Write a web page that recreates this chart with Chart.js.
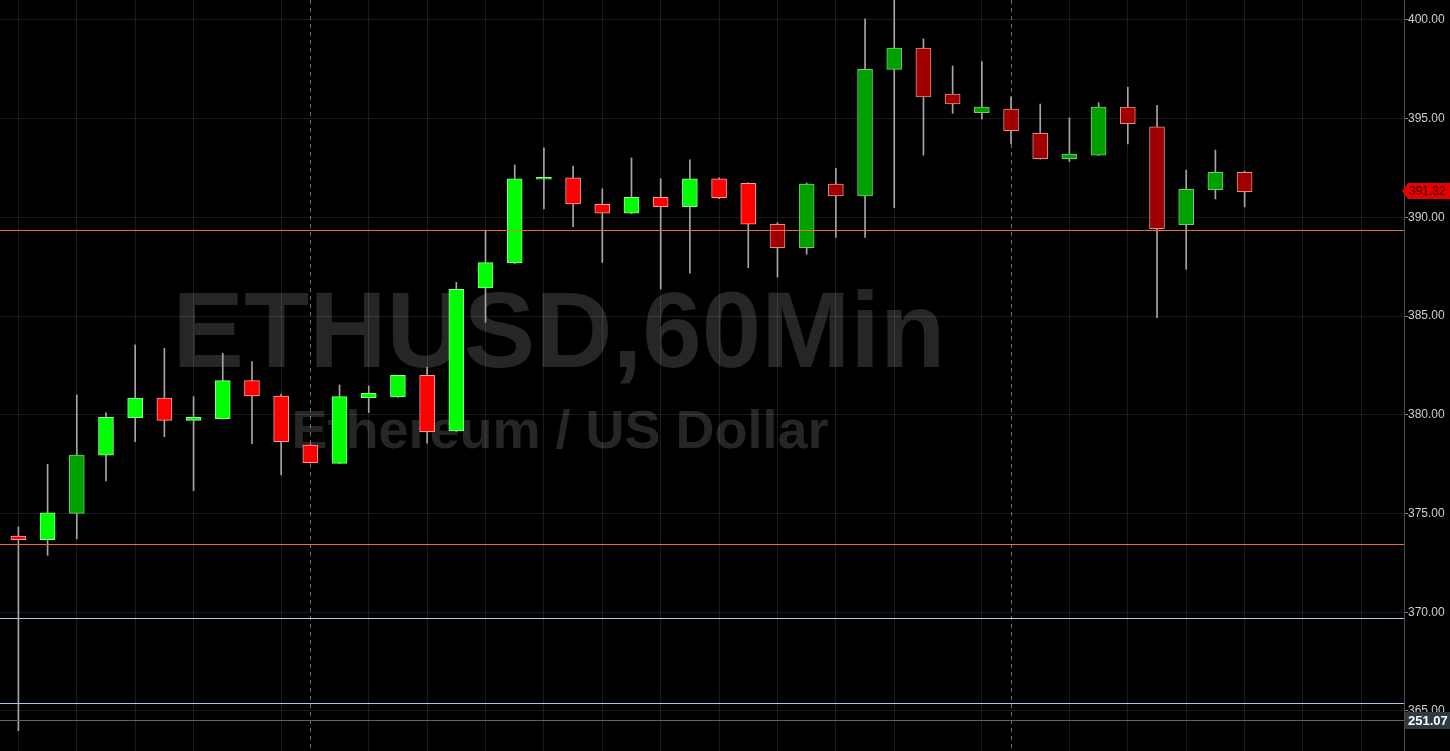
<!DOCTYPE html>
<html>
<head>
<meta charset="utf-8">
<script src="https://cdn.jsdelivr.net/npm/chart.js@4.4.1/dist/chart.umd.min.js"></script>
<style>
  html, body { margin: 0; padding: 0; background: #000; overflow: hidden; }
  #chart { display: block; }
</style>
</head>
<body>
<canvas id="chart" width="1450" height="751"></canvas>
<script>
// ETHUSD 60 min candles
var opens  = [373.86, 373.67, 375.01, 377.95, 379.85, 380.84, 379.72, 379.80, 381.73, 380.95,
              378.47, 377.54, 380.87, 380.90, 382.00, 379.18, 386.42, 387.69, 391.93, 392.00,
              390.66, 390.21, 391.02, 390.54, 391.95, 391.73, 389.65, 388.47, 391.68, 391.08,
              397.50, 398.57, 396.24, 395.30, 395.48, 394.26, 392.97, 393.15, 395.58, 394.58,
              389.63, 391.40, 392.28];
var highs  = [374.32, 377.49, 381.00, 380.10, 383.54, 383.37, 380.92, 383.11, 382.69, 381.05,
              378.50, 381.51, 381.46, 382.00, 382.41, 386.71, 389.33, 392.65, 393.52, 392.60,
              391.45, 393.01, 391.96, 392.91, 392.00, 391.75, 389.73, 391.74, 392.49, 400.05,
              401.40, 399.04, 397.67, 397.89, 396.11, 395.74, 395.04, 395.81, 396.59, 395.68,
              392.39, 393.41, 392.34];
var lows   = [364.00, 372.88, 373.72, 376.65, 378.64, 378.89, 376.16, 379.78, 378.54, 376.95,
              377.55, 377.52, 380.11, 380.88, 378.56, 379.15, 384.69, 387.65, 390.43, 389.53,
              387.71, 390.19, 386.37, 387.17, 390.95, 387.45, 386.97, 388.13, 388.99, 388.99,
              390.49, 393.15, 395.27, 394.97, 393.72, 392.95, 392.82, 393.13, 393.72, 384.92,
              387.37, 390.93, 390.53];
var closes = [373.67, 375.03, 377.96, 379.87, 380.84, 379.72, 379.87, 381.73, 380.95, 378.64,
              377.58, 380.92, 381.09, 382.00, 379.14, 386.36, 387.71, 391.95, 392.03, 390.68,
              390.21, 391.02, 390.54, 391.95, 391.00, 389.65, 388.47, 391.68, 391.08, 397.50,
              398.57, 396.10, 395.74, 395.58, 394.39, 392.97, 393.20, 395.58, 394.75, 389.43,
              391.42, 392.28, 391.30];
// bars painted in the bright shade (1) or the dark shade (0)
var brightBar = [1, 1, 0, 1, 1, 1, 1, 1, 1, 1,
                 1, 1, 1, 1, 1, 1, 1, 1, 1, 1,
                 1, 1, 1, 1, 1, 1, 0, 0, 0, 0,
                 0, 0, 0, 0, 0, 0, 0, 0, 0, 0,
                 0, 0, 0];

var priceTicks = [365, 370, 375, 380, 385, 390, 395, 400];
var hourGrid = [1, 3, 5, 7, 11, 13, 15, 17, 19, 21, 23, 25, 27, 29, 31, 35, 37, 39, 41, 43, 45];
var dayBreaks = [10, 34];

var orangeLevels = [389.35, 373.45];
var blueLevels = [369.71, 365.40];
var grayLevels = [364.52];

var lastPrice = 391.32;
var indicatorValue = 251.07;
var indicatorLevel = 364.52;

var watermarkTitle = 'ETHUSD,60Min';
var watermarkSub = 'Ethereum / US Dollar';

var wickData = [];
var bodyData = [];
var bodyFill = [];
var bodyEdge = [];
for (var i = 0; i < opens.length; i++) {
    wickData.push({ x: i, y: [lows[i], highs[i]] });
    bodyData.push({ x: i, y: [opens[i], closes[i]] });
    var up = closes[i] >= opens[i];
    if (up) {
        bodyFill.push(brightBar[i] ? '#00ff00' : '#00a000');
        bodyEdge.push(brightBar[i] ? '#8cff8c' : '#6acd6a');
    } else {
        bodyFill.push(brightBar[i] ? '#ff0000' : '#a00000');
        bodyEdge.push(brightBar[i] ? '#ff9a9a' : '#e08a8a');
    }
}

var FONT = '"Liberation Sans", Arial, sans-serif';

var decor = {
    id: 'decor',
    beforeDraw: function (chart) {
        var ctx = chart.ctx;
        ctx.save();
        ctx.fillStyle = '#000';
        ctx.fillRect(0, 0, chart.width, chart.height);
        // watermark
        ctx.fillStyle = '#262626';
        ctx.textAlign = 'center';
        ctx.textBaseline = 'alphabetic';
        ctx.font = 'bold 107px ' + FONT;
        ctx.fillText(watermarkTitle, 559, 367);
        ctx.font = 'bold 54px ' + FONT;
        ctx.fillText(watermarkSub, 560, 448);
        ctx.restore();
    },
    beforeDatasetsDraw: function (chart) {
        var ctx = chart.ctx, area = chart.chartArea, xs = chart.scales.x;
        ctx.save();
        ctx.strokeStyle = 'rgba(200,200,200,0.55)';
        ctx.lineWidth = 1;
        ctx.setLineDash([4, 4]);
        dayBreaks.forEach(function (d) {
            var px = Math.round(xs.getPixelForValue(d)) + 0.5;
            ctx.beginPath();
            ctx.moveTo(px, area.top);
            ctx.lineTo(px, area.bottom);
            ctx.stroke();
        });
        ctx.restore();
    },
    afterDatasetsDraw: function (chart) {
        var ctx = chart.ctx, area = chart.chartArea, ys = chart.scales.y;
        function hline(v, color) {
            var py = Math.round(ys.getPixelForValue(v)) + 0.5;
            ctx.strokeStyle = color;
            ctx.beginPath();
            ctx.moveTo(area.left, py);
            ctx.lineTo(area.right, py);
            ctx.stroke();
        }
        ctx.save();
        ctx.lineWidth = 1;
        ctx.setLineDash([]);
        orangeLevels.forEach(function (v) { hline(v, '#e8703a'); });
        blueLevels.forEach(function (v) { hline(v, '#a9c6ec'); });
        grayLevels.forEach(function (v) { hline(v, '#5f6468'); });
        ctx.restore();
    },
    afterDraw: function (chart) {
        var ctx = chart.ctx, area = chart.chartArea, ys = chart.scales.y;
        ctx.save();
        ctx.font = '12px ' + FONT;
        ctx.textBaseline = 'middle';
        ctx.textAlign = 'left';
        // last price tag
        var py = Math.round(ys.getPixelForValue(lastPrice));
        var left = area.right;
        ctx.fillStyle = '#e60000';
        ctx.beginPath();
        ctx.moveTo(left - 2, py);
        ctx.lineTo(left + 4, py - 8);
        ctx.lineTo(chart.width, py - 8);
        ctx.lineTo(chart.width, py + 8);
        ctx.lineTo(left + 4, py + 8);
        ctx.closePath();
        ctx.fill();
        ctx.fillStyle = '#3a0000';
        ctx.fillText(lastPrice.toFixed(2), left + 5, py + 1);
        // indicator tag
        var iy = Math.round(ys.getPixelForValue(indicatorLevel));
        ctx.fillStyle = '#2c3a42';
        ctx.fillRect(left + 1, iy - 8, chart.width - left - 1, 17);
        ctx.fillStyle = '#ffffff';
        ctx.font = 'bold 13px ' + FONT;
        ctx.fillText(indicatorValue.toFixed(2), left + 4, iy + 1);
        ctx.restore();
    }
};

new Chart(document.getElementById('chart').getContext('2d'), {
    type: 'bar',
    data: {
        datasets: [
            {
                label: 'wick',
                data: wickData,
                backgroundColor: '#a6a6a6',
                borderWidth: 0,
                barThickness: 1,
                grouped: false,
                order: 2
            },
            {
                label: 'body',
                data: bodyData,
                backgroundColor: bodyFill,
                borderColor: bodyEdge,
                borderWidth: 1,
                borderSkipped: false,
                barThickness: 15,
                grouped: false,
                order: 1
            }
        ]
    },
    options: {
        responsive: false,
        animation: false,
        devicePixelRatio: 1,
        layout: { padding: 0 },
        plugins: {
            legend: { display: false },
            tooltip: { enabled: false }
        },
        scales: {
            x: {
                type: 'linear',
                min: -0.63,
                max: 47.46,
                offset: false,
                afterBuildTicks: function (s) {
                    s.ticks = hourGrid.map(function (v) { return { value: v }; });
                },
                afterFit: function (s) { s.height = 0; s.paddingLeft = 0; s.paddingRight = 0; },
                grid: { color: 'rgba(255,255,255,0.1)', drawTicks: false },
                border: { display: false },
                ticks: { display: false }
            },
            y: {
                type: 'linear',
                position: 'right',
                min: 362.97,
                max: 401.01,
                afterBuildTicks: function (s) {
                    s.ticks = priceTicks.map(function (v) { return { value: v }; });
                },
                afterFit: function (s) { s.width = 46; s.paddingTop = 0; s.paddingBottom = 0; },
                grid: { color: 'rgba(255,255,255,0.1)', tickLength: 4, tickColor: '#808080' },
                border: { display: true, color: '#4a4a4a' },
                ticks: {
                    color: '#cfcfcf',
                    padding: 0,
                    font: { family: FONT, size: 12 },
                    callback: function (v) { return Number(v).toFixed(2); }
                }
            }
        }
    },
    plugins: [decor]
});
</script>
</body>
</html>
